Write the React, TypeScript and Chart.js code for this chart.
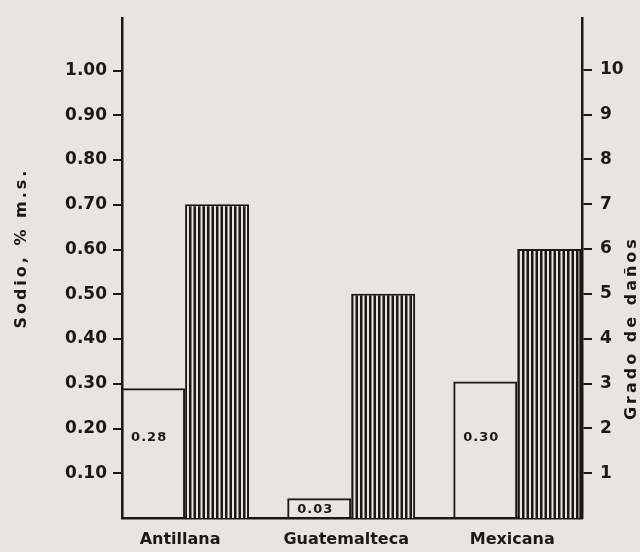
import React, { useEffect, useRef } from "react";
import { Chart, registerables } from "chart.js";

Chart.register(...registerables);

const categories = ["Antillana", "Guatemalteca", "Mexicana"];
const sodio = [0.29, 0.044, 0.305];
const sodioLabels = ["0.28", "0.03", "0.30"];
const danos = [7, 5, 6];
const leftTicks = [0.1, 0.2, 0.3, 0.4, 0.5, 0.6, 0.7, 0.8, 0.9, 1.0];
const rightTicks = [1, 2, 3, 4, 5, 6, 7, 8, 9, 10];
const leftTitle = "Sodio, % m.s.";
const rightTitle = "Grado de daños";

const PAPER = "#e9e5dd";
const INK = "#1e1814";
const FONT = "'DejaVu Sans', sans-serif";

function makeHatch(): CanvasPattern | string {
  const c = document.createElement("canvas");
  c.width = 9;
  c.height = 8;
  const g = c.getContext("2d");
  if (!g) return INK;
  g.fillStyle = PAPER;
  g.fillRect(0, 0, 9, 8);
  g.fillStyle = INK;
  g.fillRect(0, 0, 2.5, 8);
  g.fillRect(4.5, 0, 2.5, 8);
  const p = g.createPattern(c, "repeat");
  return p || INK;
}

const extrasPlugin = {
  id: "extras",
  afterDatasetsDraw(chart: any) {
    const ctx = chart.ctx;
    const meta = chart.getDatasetMeta(0);
    ctx.save();
    ctx.fillStyle = INK;
    ctx.font = `bold 13px ${FONT}`;
    (ctx as any).letterSpacing = "1px";
    ctx.textAlign = "center";
    ctx.textBaseline = "middle";
    meta.data.forEach((bar: any, i: number) => {
      const h = bar.base - bar.y;
      const y = h > 100 ? bar.base - 80 : (bar.y + bar.base) / 2 + 1;
      ctx.fillText(sodioLabels[i], bar.x - 4, y);
    });
    ctx.restore();
  },
  afterDraw(chart: any) {
    const ctx = chart.ctx;
    const a = chart.chartArea;
    const mid = (a.top + a.bottom) / 2;
    ctx.save();
    ctx.fillStyle = INK;
    ctx.font = `bold 16px ${FONT}`;
    (ctx as any).letterSpacing = "3px";
    ctx.textAlign = "center";
    ctx.textBaseline = "middle";
    ctx.translate(22, mid - 20);
    ctx.rotate(-Math.PI / 2);
    ctx.fillText(leftTitle, 0, 0);
    ctx.restore();
    ctx.save();
    ctx.fillStyle = INK;
    ctx.font = `bold 16px ${FONT}`;
    (ctx as any).letterSpacing = "3px";
    ctx.textAlign = "center";
    ctx.textBaseline = "middle";
    ctx.translate(632, mid + 60);
    ctx.rotate(-Math.PI / 2);
    ctx.fillText(rightTitle, 0, 0);
    ctx.restore();
  },
};

export default function App() {
  const ref = useRef<HTMLCanvasElement | null>(null);
  useEffect(() => {
    if (!ref.current) return;
    const hatch = makeHatch();
    const chart = new Chart(ref.current, {
      type: "bar",
      data: {
        datasets: [
          {
            label: leftTitle,
            data: sodio.map((v, i) => ({ x: i, y: v })),
            yAxisID: "ySod",
            backgroundColor: "rgba(0,0,0,0)",
            borderColor: INK,
            borderWidth: 2,
            borderSkipped: "bottom",
          },
          {
            label: rightTitle,
            data: danos.map((v, i) => ({ x: i, y: v })),
            yAxisID: "yDan",
            backgroundColor: hatch as any,
            borderColor: INK,
            borderWidth: 2,
            borderSkipped: "bottom",
          },
        ],
      },
      options: {
        animation: false,
        responsive: true,
        maintainAspectRatio: false,
        layout: { padding: { top: 13, left: 0, right: 0, bottom: 0 } },
        plugins: { legend: { display: false }, tooltip: { enabled: false } },
        datasets: { bar: { categoryPercentage: 0.77, barPercentage: 1 } },
        scales: {
          x: {
            type: "linear",
            offset: false,
            min: -0.38,
            max: 2.39,
            afterBuildTicks: (s: any) => {
              s.ticks = categories.map((_, i) => ({ value: i }));
            },
            afterFit: (s: any) => {
              s.height = 34;
            },
            grid: { display: false, offset: false },
            border: { display: true, color: INK, width: 2.5 },
            ticks: {
              color: INK,
              font: { family: FONT, size: 16, weight: "bold" },
              padding: 4,
              labelOffset: -5,
              maxRotation: 0,
              callback: (v: any) => categories[v as number] ?? "",
            },
          },
          ySod: {
            type: "linear",
            position: "left",
            min: 0,
            max: 1.117,
            afterBuildTicks: (s: any) => {
              s.ticks = leftTicks.map((v) => ({ value: v }));
            },
            afterFit: (s: any) => {
              s.width = 122;
            },
            grid: {
              display: true,
              drawOnChartArea: false,
              drawTicks: true,
              tickLength: 9,
              color: INK,
              lineWidth: 2,
            },
            border: { display: true, color: INK, width: 2.5 },
            ticks: {
              color: INK,
              font: { family: FONT, size: 17, weight: "bold" },
              padding: 6,
              callback: (v: any) => Number(v).toFixed(2),
            },
          },
          yDan: {
            type: "linear",
            position: "right",
            min: 0,
            max: 11.15,
            afterBuildTicks: (s: any) => {
              s.ticks = rightTicks.map((v) => ({ value: v }));
            },
            afterFit: (s: any) => {
              s.width = 58;
            },
            grid: {
              display: true,
              drawOnChartArea: false,
              drawTicks: true,
              tickLength: 10,
              color: INK,
              lineWidth: 2,
            },
            border: { display: true, color: INK, width: 2.5 },
            ticks: {
              color: INK,
              font: { family: FONT, size: 17, weight: "bold" },
              padding: 8,
              callback: (v: any) => String(v),
            },
          },
        },
      },
      plugins: [extrasPlugin],
    });
    return () => chart.destroy();
  }, []);

  return (
    <div
      style={{
        position: "fixed",
        left: 0,
        top: 0,
        width: 640,
        height: 552,
        background: PAPER,
      }}
    >
      <canvas ref={ref} />
    </div>
  );
}
